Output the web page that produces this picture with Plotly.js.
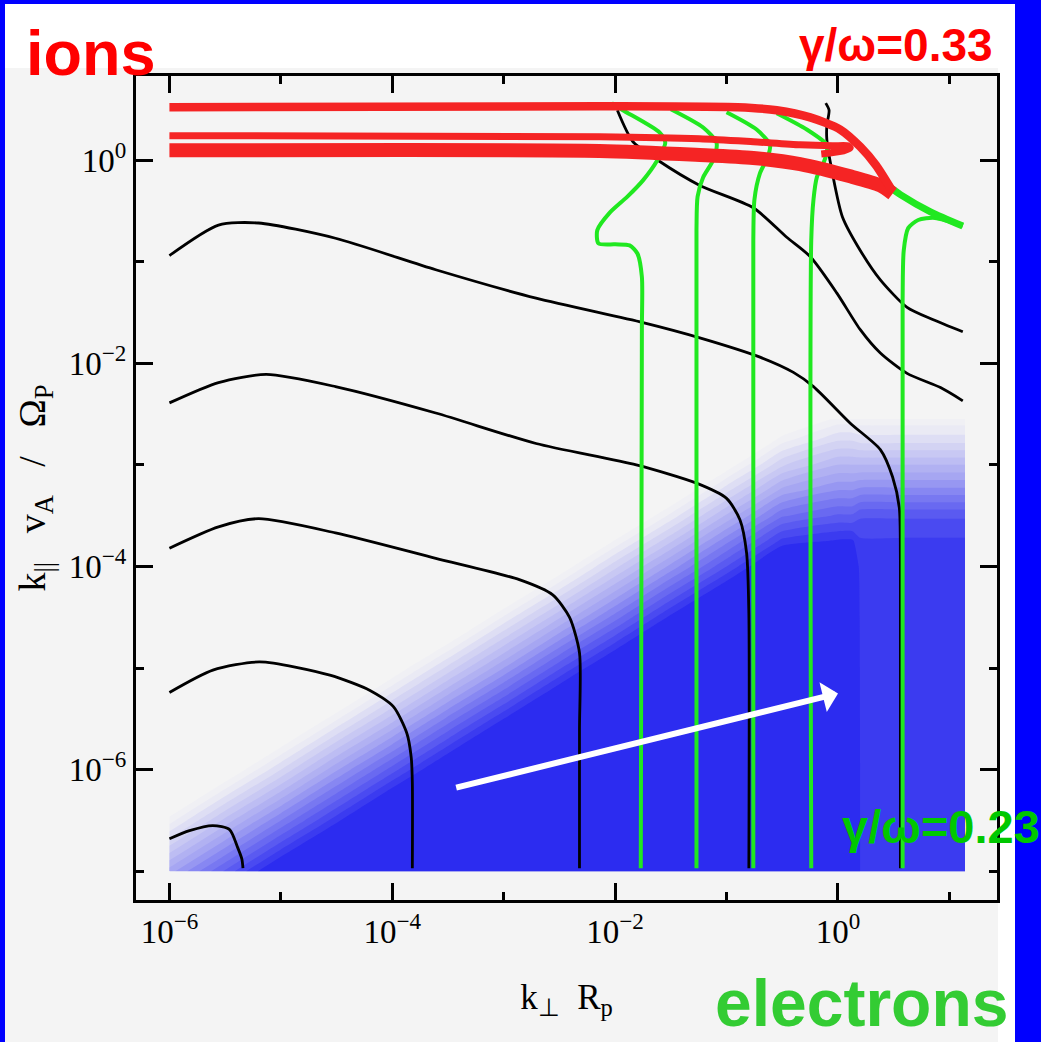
<!DOCTYPE html>
<html>
<head>
<meta charset="utf-8">
<script src="https://cdn.plot.ly/plotly-3.0.1.min.js"></script>
<style>
  html, body { margin: 0; padding: 0; background: #0000ff; }
  #chart { width: 1041px; height: 1042px; }
</style>
</head>
<body>
<div id="chart"></div>
<script>
// ---------------- DATA (log10 values) ----------------
// axes: x = log10(k_perp R_p), y = log10(k_par v_A / Omega_p)

// shaded growth-rate field (grid columns / rows, and intensity; <=0 no colour, >=1 full blue)
const fieldLogX = [-6, -5.5, -5, -4.5, -4, -3.5, -3, -2.5, -2, -1.5, -1, -0.5, 0, 0.13, 0.2, 0.6, 1.14];
const fieldLogY = [-7, -6.5, -6, -5.5, -5, -4.5, -4, -3.75, -3.5, -3.25, -3, -2.75, -2.55];
const fieldZ = [
  [ 0.50,  0.78,  1.07,  1.35,  1.63,  1.92,  2.20,  2.48,  2.77,  3.05,  3.33,  3.62, 3.37, 3.37, 0.90, 0.90, 0.90],
  [ 0.08,  0.37,  0.65,  0.93,  1.22,  1.50,  1.78,  2.07,  2.35,  2.63,  2.92,  3.20, 3.00, 3.00, 0.90, 0.90, 0.90],
  [-0.33, -0.05,  0.23,  0.52,  0.80,  1.08,  1.37,  1.65,  1.93,  2.22,  2.50,  2.78, 2.63, 2.63, 0.90, 0.90, 0.90],
  [-0.75, -0.47, -0.18,  0.10,  0.38,  0.67,  0.95,  1.23,  1.52,  1.80,  2.08,  2.37, 2.26, 2.26, 0.90, 0.90, 0.90],
  [-1.17, -0.88, -0.60, -0.32, -0.03,  0.25,  0.53,  0.82,  1.10,  1.38,  1.67,  1.95, 1.89, 1.89, 0.90, 0.90, 0.90],
  [-1.58, -1.30, -1.02, -0.73, -0.45, -0.17,  0.12,  0.40,  0.68,  0.97,  1.25,  1.53, 1.52, 1.52, 0.90, 0.90, 0.90],
  [-2.00, -1.72, -1.43, -1.15, -0.87, -0.58, -0.30, -0.02,  0.27,  0.55,  0.83,  1.12, 1.15, 1.15, 0.90, 0.90, 0.90],
  [-2.21, -1.93, -1.64, -1.36, -1.08, -0.79, -0.51, -0.23,  0.06,  0.34,  0.63,  0.91, 0.96, 0.96, 0.90, 0.90, 0.90],
  [-2.42, -2.13, -1.85, -1.57, -1.28, -1.00, -0.72, -0.43, -0.15,  0.13,  0.42,  0.70, 0.78, 0.78, 0.82, 0.82, 0.82],
  [-2.63, -2.34, -2.06, -1.78, -1.49, -1.21, -0.93, -0.64, -0.36, -0.08,  0.21,  0.49, 0.59, 0.59, 0.61, 0.61, 0.61],
  [-2.83, -2.55, -2.27, -1.98, -1.70, -1.42, -1.13, -0.85, -0.57, -0.28,  0.00,  0.28, 0.41, 0.41, 0.41, 0.41, 0.41],
  [-3.04, -2.76, -2.48, -2.19, -1.91, -1.63, -1.34, -1.06, -0.78, -0.49, -0.21,  0.08, 0.22, 0.22, 0.20, 0.20, 0.20],
  [-3.21, -2.93, -2.64, -2.36, -2.08, -1.79, -1.51, -1.23, -0.94, -0.66, -0.38, -0.09, 0.07, 0.07, 0.07, 0.07, 0.07]
];

// black contours
const blackA_x = [-6.00, -5.82, -5.61, -5.46, -5.39, -5.35, -5.34];
const blackA_y = [-6.68, -6.60, -6.55, -6.59, -6.76, -6.88, -6.97];
const blackB_x = [-6.00, -5.61, -5.19, -4.56, -4.20, -3.99, -3.87, -3.83, -3.82, -3.82];
const blackB_y = [-5.24, -5.02, -4.94, -5.07, -5.22, -5.38, -5.64, -5.88, -6.13, -6.97];
const blackC_x = [-6.00, -5.56, -5.20, -4.51, -3.61, -2.86, -2.56, -2.41, -2.32, -2.32, -2.32];
const blackC_y = [-3.82, -3.61, -3.53, -3.67, -3.92, -4.13, -4.28, -4.50, -4.85, -5.61, -6.97];
const blackD_x = [-6.00, -5.56, -5.13, -4.51, -3.61, -2.71, -1.81, -1.27, -1.00, -0.88, -0.82, -0.80, -0.80];
const blackD_y = [-2.39, -2.19, -2.11, -2.23, -2.49, -2.79, -3.00, -3.18, -3.33, -3.54, -3.87, -4.46, -6.97];
const blackE_x = [-6.00, -5.56, -5.20, -4.51, -3.61, -2.71, -1.75, -1.24, -0.70, -0.40, -0.22, 0.11, 0.38, 0.49, 0.55, 0.56, 0.56];
const blackE_y = [-0.94, -0.64, -0.62, -0.77, -1.08, -1.36, -1.60, -1.75, -1.94, -2.09, -2.23, -2.59, -2.85, -3.12, -3.42, -3.94, -6.97];
const blackF_x = [-1.98, -1.84, -1.62, -1.24, -0.76, -0.46, -0.25, -0.01, 0.20, 0.38, 0.62, 0.92, 1.12];
const blackF_y = [0.49, 0.18, 0.00, -0.25, -0.47, -0.76, -0.95, -1.31, -1.67, -1.90, -2.10, -2.24, -2.37];
const blackG_x = [-0.11, -0.08, -0.10, -0.10, -0.05, 0.04, 0.20, 0.38, 0.62, 0.85, 1.12];
const blackG_y = [0.56, 0.49, 0.34, 0.20, -0.13, -0.56, -0.89, -1.18, -1.45, -1.57, -1.69];

// green contours (electrons)
const green1_x = [-2.03, -1.93, -1.60, -1.55, -1.62, -1.75, -1.89, -2.05, -2.16, -2.15, -2.00, -1.87, -1.80, -1.76, -1.76, -1.77];
const green1_y = [0.56, 0.49, 0.27, 0.17, 0.00, -0.20, -0.36, -0.52, -0.69, -0.82, -0.83, -0.84, -0.92, -1.15, -1.67, -6.97];
const green2_x = [-1.50, -1.21, -1.09, -1.12, -1.21, -1.26, -1.27, -1.27];
const green2_y = [0.50, 0.32, 0.17, 0.00, -0.17, -0.36, -0.69, -6.97];
const green3_x = [-1.00, -0.73, -0.61, -0.63, -0.70, -0.75, -0.76, -0.76];
const green3_y = [0.47, 0.30, 0.15, 0.03, -0.13, -0.39, -0.79, -6.97];
const green4_x = [-0.55, -0.28, -0.10, -0.10, -0.13, -0.19, -0.22, -0.24, -0.24];
const green4_y = [0.46, 0.30, 0.15, 0.08, -0.03, -0.17, -0.39, -0.79, -6.97];
const green5_x = [1.12, 0.87, 0.72, 0.63, 0.59, 0.58, 0.58];
const green5_y = [-0.65, -0.57, -0.59, -0.67, -0.89, -1.38, -6.97];
const greenTail_x = [0.42, 0.56, 0.83, 1.12];
const greenTail_y = [-0.23, -0.34, -0.51, -0.65];

// red contours (ions)
const redOuter_x = [-6.00, -2.14, -0.90, -0.55, -0.25, 0.02, 0.20, 0.34, 0.49];
const redOuter_y = [0.52, 0.53, 0.52, 0.49, 0.42, 0.30, 0.13, -0.05, -0.31];
const redInner_x = [-6.00, -2.14, -1.24, -0.76, -0.34, -0.05, 0.09, 0.11, 0.05, -0.15];
const redInner_y = [0.24, 0.23, 0.21, 0.18, 0.15, 0.14, 0.14, 0.12, 0.09, 0.06];
const redThick_x = [-6.00, -2.14, -1.24, -0.76, -0.34, 0.11, 0.38, 0.49];
const redThick_y = [0.095, 0.09, 0.05, 0.02, -0.04, -0.16, -0.25, -0.33];

// white arrow (tail -> head), log10 units
const arrowLogX = [-3.44, 0.00];
const arrowLogY = [-6.18, -5.25];

// tick labels
const majorTicks = [1e-6, 1e-4, 1e-2, 1];
const majorTickText = ['10<sup>−6</sup>', '10<sup>−4</sup>', '10<sup>−2</sup>', '10<sup>0</sup>'];
const minorTicksX = [1e-5, 1e-3, 1e-1, 10];
const minorTicksY = [1e-7, 1e-5, 1e-3, 1e-1];

// ---------------- BUILD ----------------
const W = 1041, H = 1042;
const M = {l: 136, r: 44, t: 76, b: 142};
const px2paperX = px => (px - M.l) / (W - M.l - M.r);
const px2paperY = py => (H - M.b - py) / (H - M.t - M.b);
const p10 = a => a.map(v => Math.pow(10, v));

const BLUE = '#2c2cf0', BG = '#f4f4f4';
const GREEN = '#20e820', RED = '#f52424';
const NB = '\u00a0';

const traces = [];
traces.push({
  type: 'contour',
  x: p10(fieldLogX), y: p10(fieldLogY), z: fieldZ,
  zmin: 0, zmax: 1, autocontour: false,
  contours: {start: 0.05, end: 0.95, size: 0.06, coloring: 'fill', showlines: false},
  line: {width: 0, smoothing: 0.6},
  colorscale: [[0, BG], [0.1, '#eeeef4'], [0.5, '#a6a6f2'], [1, BLUE]],
  showscale: false, hoverinfo: 'skip'
});

function addLine(xs, ys, color, width) {
  traces.push({
    type: 'scatter', mode: 'lines', x: p10(xs), y: p10(ys),
    line: {color: color, width: width, shape: 'spline', smoothing: 0.7},
    hoverinfo: 'skip', showlegend: false
  });
}
[[blackA_x, blackA_y], [blackB_x, blackB_y], [blackC_x, blackC_y], [blackD_x, blackD_y],
 [blackE_x, blackE_y], [blackF_x, blackF_y], [blackG_x, blackG_y]].forEach(c => addLine(c[0], c[1], '#000000', 2.8));
[[green1_x, green1_y], [green2_x, green2_y], [green3_x, green3_y], [green4_x, green4_y],
 [green5_x, green5_y]].forEach(c => addLine(c[0], c[1], GREEN, 4));
addLine(greenTail_x, greenTail_y, GREEN, 7);
addLine(redThick_x, redThick_y, RED, 14);
addLine(redInner_x, redInner_y, RED, 7);
addLine(redOuter_x, redOuter_y, RED, 8.5);

const serif = 'Liberation Serif, Times New Roman, serif';
const tickFont = {family: serif, size: 33, color: '#000'};
const axisCommon = {
  type: 'log', showgrid: false, zeroline: false,
  showline: true, linecolor: '#000', linewidth: 3, mirror: 'ticks',
  ticks: 'inside', ticklen: 17, tickwidth: 3, tickcolor: '#000',
  tickmode: 'array', tickvals: majorTicks, ticktext: majorTickText,
  tickfont: tickFont, automargin: false
};

const layout = {
  width: W, height: H,
  margin: M,
  paper_bgcolor: '#0000ff',
  plot_bgcolor: BG,
  showlegend: false,
  xaxis: Object.assign({}, axisCommon, {
    range: [-6.30, 1.427],
    minor: {tickmode: 'array', tickvals: minorTicksX, ticks: 'inside', ticklen: 8, tickwidth: 3, tickcolor: '#000'},
    title: {text: 'k<sub>⊥</sub>' + NB + NB + 'R<sub>p</sub>', standoff: 36,
            font: {family: serif, size: 35, color: '#000'}}
  }),
  yaxis: Object.assign({}, axisCommon, {
    range: [-7.283, 0.827],
    minor: {tickmode: 'array', tickvals: minorTicksY, ticks: 'inside', ticklen: 8, tickwidth: 3, tickcolor: '#000'},
    title: {text: 'k<sub>||</sub>' + NB + NB + NB + 'v<sub>A</sub>' + NB + NB + NB + '/' + NB + NB + NB + 'Ω<sub>P</sub>',
            standoff: 12, font: {family: serif, size: 38, color: '#000'}}
  }),
  shapes: [
    {type: 'rect', xref: 'paper', yref: 'paper', layer: 'below',
     x0: px2paperX(5), x1: px2paperX(1015), y0: px2paperY(1060), y1: px2paperY(4),
     fillcolor: '#ffffff', line: {width: 0}},
    {type: 'rect', xref: 'paper', yref: 'paper', layer: 'below',
     x0: px2paperX(5), x1: px2paperX(998), y0: px2paperY(1060), y1: px2paperY(68),
     fillcolor: BG, line: {width: 0}}
  ],
  annotations: [
    {xref: 'x', yref: 'y', axref: 'x', ayref: 'y',
     x: arrowLogX[1], y: arrowLogY[1], ax: arrowLogX[0], ay: arrowLogY[0],
     text: '', showarrow: true, arrowhead: 1, arrowsize: 0.85, arrowwidth: 6, arrowcolor: '#ffffff'},
    {xref: 'paper', yref: 'paper', x: px2paperX(24), y: px2paperY(53), xanchor: 'left', yanchor: 'middle',
     text: '<b>ions</b>', showarrow: false,
     font: {family: 'Liberation Sans, Arial, sans-serif', size: 63, color: '#ff0000'}},
    {xref: 'paper', yref: 'paper', x: px2paperX(995), y: px2paperY(45), xanchor: 'right', yanchor: 'middle',
     text: '<b>γ/ω=0.33</b>', showarrow: false,
     font: {family: 'Liberation Sans, Arial, sans-serif', size: 46, color: '#ff0000'}},
    {xref: 'paper', yref: 'paper', x: px2paperX(840), y: px2paperY(826), xanchor: 'left', yanchor: 'middle',
     text: '<b>γ/ω=0.23</b>', showarrow: false,
     font: {family: 'Liberation Sans, Arial, sans-serif', size: 47, color: '#00c800'}},
    {xref: 'paper', yref: 'paper', x: px2paperX(713), y: px2paperY(1003), xanchor: 'left', yanchor: 'middle',
     text: '<b>electrons</b>', showarrow: false,
     font: {family: 'Liberation Sans, Arial, sans-serif', size: 66, color: '#33cc33'}}
  ]
};

Plotly.newPlot('chart', traces, layout, {staticPlot: true, displayModeBar: false});
</script>
</body>
</html>
